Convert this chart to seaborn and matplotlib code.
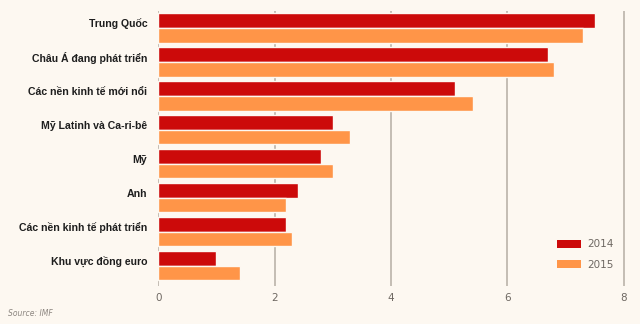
import matplotlib
matplotlib.use("Agg")
import matplotlib.pyplot as plt
import matplotlib.transforms as mtransforms
from matplotlib.patches import Patch
import seaborn as sns
import pandas as pd

# GDP growth forecasts (%)
regions = [
    "Trung Quốc",
    "Châu Á đang phát triển",
    "Các nền kinh tế mới nổi",
    "Mỹ Latinh và Ca-ri-bê",
    "Mỹ",
    "Anh",
    "Các nền kinh tế phát triển",
    "Khu vực đồng euro",
]
growth_2014 = [7.5, 6.7, 5.1, 3.0, 2.8, 2.4, 2.2, 1.0]
growth_2015 = [7.3, 6.8, 5.4, 3.3, 3.0, 2.2, 2.3, 1.4]
years = ["2014", "2015"]
xticks = [0, 2, 4, 6, 8]
source_text = "Source: IMF"

bg = "#FDF8F1"
colors = {"2014": "#CC0A0A", "2015": "#FF9548"}
grid_col = "#B4ADA4"

df = pd.DataFrame({
    "region": regions * 2,
    "value": growth_2014 + growth_2015,
    "year": [years[0]] * len(regions) + [years[1]] * len(regions),
})

sns.set_theme(style="white")
plt.rcParams["font.family"] = ["DejaVu Sans"]

fig = plt.figure(figsize=(6.4, 3.24), dpi=100, facecolor=bg)
ax = fig.add_axes([0.2473, 0.117, (8.1 * 58.2) / 640, 0.849])
ax.set_facecolor(bg)

sns.barplot(
    data=df, y="region", x="value", hue="year", order=regions,
    hue_order=years, palette=colors, saturation=1, orient="h", width=0.86,
    edgecolor=bg, linewidth=1.0, ax=ax, legend=False, zorder=3,
)

ax.set_xlim(0, 8.1)
ax.set_ylim(7.6, -0.5)
ax.set_xticks(xticks)
ax.set_xticklabels([str(t) for t in xticks])
for t in xticks:
    ax.axvline(t, color=grid_col, lw=1.1, zorder=1)

for s in ax.spines.values():
    s.set_visible(False)

ax.set_xlabel("")
ax.set_ylabel("")
ax.tick_params(axis="x", length=0, pad=5, labelsize=7.5, labelcolor="#6E6862")
ax.tick_params(axis="y", length=0, pad=8, labelsize=7.6)
offset = mtransforms.ScaledTranslation(0, 5 / 100, fig.dpi_scale_trans)
for lbl in ax.get_yticklabels():
    lbl.set_fontweight("bold")
    lbl.set_fontfamily(["Liberation Sans", "DejaVu Sans"])
    lbl.set_color("#1E1E1E")
    lbl.set_transform(lbl.get_transform() + offset)

handles = [Patch(facecolor=colors[y], edgecolor="none", label=y) for y in years]
fig.legend(
    handles=handles, loc="upper left", bbox_to_anchor=(548 / 640, 1 - 230 / 324),
    frameon=False, fontsize=7.5, labelcolor="#6E6862", handlelength=2.3,
    handleheight=0.8, handletextpad=0.6, labelspacing=1.0,
)

fig.text(8 / 640, 1 - 313 / 324, source_text, fontsize=5.5, style="italic",
         color="#8C8680", va="center", ha="left")

fig.savefig("out.png", dpi=100, facecolor=bg)
